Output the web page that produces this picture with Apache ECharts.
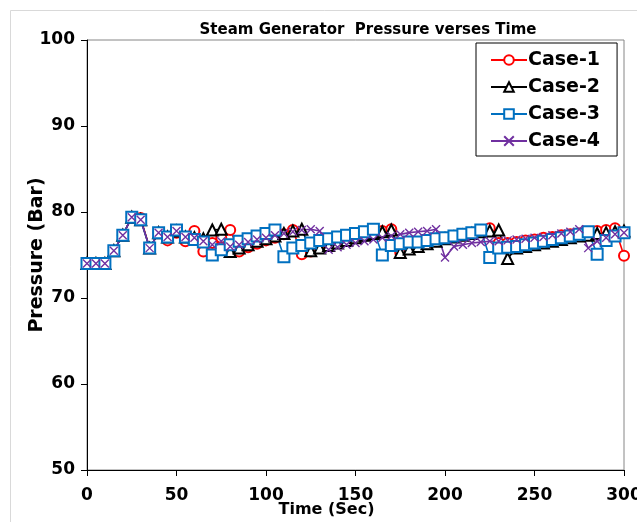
<!DOCTYPE html>
<html>
<head>
<meta charset="utf-8">
<script src="https://cdn.jsdelivr.net/npm/echarts@6/dist/echarts.min.js"></script>
<style>
  html, body { margin: 0; padding: 0; background: #fff; overflow: hidden; }
  #chart { width: 637px; height: 522px; }
</style>
</head>
<body>
<div id="chart"></div>
<script>
// Time samples (s), one every 5 seconds
const timeSec = [0,5,10,15,20,25,30,35,40,45,50,55,60,65,70,75,80,85,90,95,100,
  105,110,115,120,125,130,135,140,145,150,155,160,165,170,175,180,185,190,195,200,
  205,210,215,220,225,230,235,240,245,250,255,260,265,270,275,280,285,290,295,300];

// Steam generator pressure (bar) for each case
const case1 = [74,74,74,75.5,77.3,79.4,79.3,75.8,77.6,76.7,77.6,76.6,77.8,75.4,76.4,77.0,77.9,75.4,75.9,76.3,76.7,
  77.0,77.4,77.9,75.1,75.4,75.8,76.1,76.5,76.8,77.1,77.4,77.6,77.8,78.0,75.3,75.7,76.0,76.3,76.6,76.9,
  77.1,77.3,77.5,77.7,78.1,76.4,76.4,76.5,76.7,76.8,77.0,77.1,77.3,77.4,77.5,77.6,77.8,77.9,78.1,74.9];
const case2 = [74,74,74,75.5,77.3,79.4,79.1,75.8,77.6,77.1,77.8,77.1,77.0,76.9,77.9,78.0,75.4,75.8,76.2,76.6,76.9,
  77.2,77.5,77.8,78.0,75.5,75.8,76.1,76.4,76.7,77.0,77.3,77.5,77.7,77.9,75.3,75.7,76.0,76.3,76.6,76.9,
  77.1,77.3,77.5,77.7,77.8,77.9,74.6,75.8,76.0,76.2,76.4,76.6,76.8,77.0,77.2,77.3,77.5,77.6,77.7,77.8];
const case3 = [74,74,74,75.5,77.3,79.4,79.1,75.8,77.6,77.1,77.9,77.1,76.8,76.5,75.0,75.6,76.2,76.6,76.9,77.2,77.5,
  77.9,74.8,75.8,76.1,76.4,76.7,76.9,77.1,77.3,77.5,77.7,78.0,75.0,76.1,76.3,76.5,76.5,76.7,76.9,77.0,
  77.2,77.4,77.6,77.9,74.7,75.8,75.9,76.0,76.2,76.4,76.6,76.8,77.0,77.2,77.4,77.7,75.1,76.7,77.2,77.6];
const case4 = [74,74,74,75.5,77.3,79.4,79.1,75.8,77.6,77.1,77.8,77.1,77.0,76.6,76.2,76.6,76.0,76.2,76.5,76.8,77.0,
  77.3,77.5,77.7,77.9,78.0,77.8,75.6,75.9,76.2,76.4,76.6,76.8,77.0,77.2,77.4,77.6,77.7,77.8,78.0,74.7,
  76.0,76.2,76.4,76.5,76.6,76.6,76.7,76.8,76.9,77.0,77.1,77.3,77.5,77.7,78.0,75.8,76.6,77.0,77.4,77.6];

const xTicks = { min: 0, max: 300, step: 50 };
const yTicks = { min: 50, max: 100, step: 10 };

const FONT = '"DejaVu Sans", sans-serif';
const zip = (ys) => timeSec.map((t, i) => [t, ys[i]]);
const crossPath = 'path://M0,0L10,10M10,0L0,10';

function lineSeries(name, values, color, symbol, size) {
  return {
    name: name,
    type: 'line',
    data: zip(values),
    symbol: symbol,
    symbolSize: size,
    showAllSymbol: true,
    lineStyle: { color: color, width: 1.6 },
    itemStyle: { color: color, borderColor: color, borderWidth: 1.4 },
    emphasis: { disabled: true },
    animation: false
  };
}

const chart = echarts.init(document.getElementById('chart'), null, { renderer: 'canvas' });
chart.setOption({
  backgroundColor: '#fff',
  animation: false,
  title: {
    text: 'Steam Generator  Pressure verses Time',
    left: 363, top: 18, textAlign: 'center',
    textStyle: { fontFamily: FONT, fontSize: 15, fontWeight: 'bold', color: '#000' }
  },
  graphic: [{
    type: 'rect', z: -1, silent: true,
    shape: { x: 10.5, y: 10.5, width: 700, height: 600 },
    style: { fill: 'none', stroke: '#d9d9d9', lineWidth: 1 }
  }],
  grid: {
    left: 87, right: 13, top: 40, bottom: 52,
    outerBoundsMode: 'none',
    containLabel: false,
    show: true, borderColor: '#868686', borderWidth: 1, backgroundColor: 'transparent'
  },
  legend: {
    orient: 'vertical',
    left: 476, top: 43,
    padding: [6, 17, 4, 14],
    itemGap: 5,
    itemWidth: 36, itemHeight: 12,
    backgroundColor: '#fff',
    borderColor: '#000', borderWidth: 1,
    textStyle: { fontFamily: FONT, fontSize: 19, lineHeight: 22, fontWeight: 'bold', color: '#000', padding: [0, 0, 0, -4] },
    data: ['Case-1', 'Case-2', 'Case-3', 'Case-4']
  },
  xAxis: {
    type: 'value',
    min: xTicks.min, max: xTicks.max, interval: xTicks.step,
    name: 'Time (Sec)', nameLocation: 'middle', nameGap: 32, nameMoveOverlap: false,
    nameTextStyle: { fontFamily: FONT, fontSize: 16, fontWeight: 'bold', color: '#000', padding: [0, 58, 0, 0] },
    axisLine: { lineStyle: { color: '#000', width: 1 } },
    axisTick: { show: true, inside: false, length: 6, lineStyle: { color: '#000' } },
    axisLabel: { fontFamily: FONT, fontSize: 17, fontWeight: 'bold', color: '#000', margin: 17 },
    splitLine: { show: false }
  },
  yAxis: {
    type: 'value',
    min: yTicks.min, max: yTicks.max, interval: yTicks.step,
    name: 'Pressure (Bar)', nameLocation: 'middle', nameGap: 40, nameRotate: 90, nameMoveOverlap: false,
    nameTextStyle: { fontFamily: FONT, fontSize: 19, fontWeight: 'bold', color: '#000' },
    axisLine: { show: true, lineStyle: { color: '#000', width: 1 } },
    axisTick: { show: true, inside: false, length: 6, lineStyle: { color: '#000' } },
    axisLabel: { fontFamily: FONT, fontSize: 17, fontWeight: 'bold', color: '#000', margin: 12 },
    splitLine: { show: false }
  },
  series: [
    lineSeries('Case-1', case1, '#FF0000', 'emptyCircle', 10),
    lineSeries('Case-2', case2, '#000000', 'emptyTriangle', 11),
    lineSeries('Case-3', case3, '#0070C0', 'emptyRect', 11),
    lineSeries('Case-4', case4, '#7030A0', crossPath, 8)
  ]
});
</script>
</body>
</html>
